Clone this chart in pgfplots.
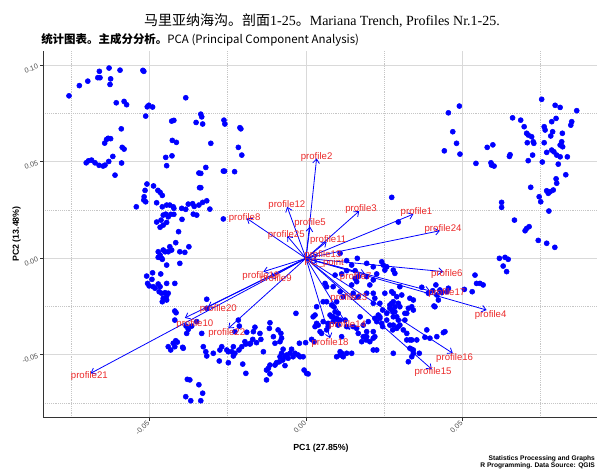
\documentclass[border=0pt]{standalone}
\usepackage{pgfplots}
\pgfplotsset{compat=1.18}
\usetikzlibrary{arrows.meta}
\usepackage{fontspec}
\setmainfont{Liberation Sans}
\newfontfamily\serifft{Liberation Serif}
\newfontfamily\cjk{Noto Sans CJK SC}

\definecolor{ptblue}{RGB}{0,0,255}
\definecolor{labred}{RGB}{235,40,40}
\definecolor{axisdark}{RGB}{51,51,51}
\definecolor{tickgray}{RGB}{77,77,77}

\begin{document}
\begin{tikzpicture}
\begin{axis}[
    at={(32.5pt,39.2pt)}, anchor=south west,
    scale only axis, width=415.3pt, height=275pt,
    xmin=-0.0839, xmax=0.0930, ymin=-0.0826, ymax=0.1074,
    axis lines*=left,
    axis line style={axisdark, line width=1.1pt},
    scaled ticks=false,
    xtick={-0.05,0,0.05}, xticklabels={-0.05,0.00,0.05},
    ytick={-0.05,0,0.05,0.1}, yticklabels={-0.05,0.00,0.05,0.10},
    minor xtick={-0.075,-0.025,0.025,0.075},
    minor ytick={-0.075,-0.025,0.025,0.075},
    grid=both,
    major grid style={gray!30, line width=0.5pt},
    minor grid style={gray!45, densely dotted, line width=0.5pt},
    tick align=outside, major tick length=2.5pt, minor tick length=0pt,
    tick style={axisdark, line width=0.5pt},
    xticklabel style={rotate=45, anchor=east, inner sep=1pt, font=\fontsize{5.4}{6}\selectfont, text=tickgray},
    yticklabel style={rotate=20, anchor=east, inner sep=1.5pt, font=\fontsize{5.4}{6}\selectfont, text=tickgray},
]
% individual observations
\addplot[only marks, mark=*, mark size=1.9pt, color=ptblue, mark options={draw=ptblue, fill=ptblue}] coordinates {
(-0.0757,0.0842) (-0.0724,0.0895) (-0.0697,0.0918) (-0.0660,0.0969) (-0.0665,0.0936) (-0.0658,0.0936) (-0.0629,0.0986) (-0.0624,0.0930) (-0.0626,0.0901) (-0.0594,0.0975) (-0.0521,0.0974) (-0.0518,0.0969)
(-0.0606,0.0806) (-0.0581,0.0813) (-0.0573,0.0796) (-0.0507,0.0785) (-0.0502,0.0793) (-0.0490,0.0784) (-0.0512,0.0737) (-0.0384,0.0832) (-0.0429,0.0711) (-0.0422,0.0715) (-0.0351,0.0704) (-0.0336,0.0747) (-0.0333,0.0733) (-0.0330,0.0696) (-0.0262,0.0716) (-0.0259,0.0696) (-0.0211,0.0677) (-0.0208,0.0671)
(-0.0590,0.0671) (-0.0637,0.0616) (-0.0632,0.0622) (-0.0624,0.0620) (-0.0643,0.0597) (-0.0587,0.0575) (-0.0581,0.0566) (-0.0617,0.0528) (-0.0589,0.0494) (-0.0610,0.0431)
(-0.0702,0.0495) (-0.0695,0.0505) (-0.0685,0.0509) (-0.0674,0.0495) (-0.0661,0.0482) (-0.0648,0.0478) (-0.0642,0.0483) (-0.0630,0.0502)
(-0.0427,0.0611) (-0.0414,0.0601) (-0.0304,0.0596) (-0.0216,0.0575) (-0.0205,0.0535) (-0.0448,0.0523) (-0.0428,0.0531) (-0.0445,0.0480) (-0.0342,0.0442) (-0.0320,0.0471) (-0.0336,0.0440) (-0.0264,0.0452) (-0.0260,0.0452) (-0.0228,0.0449)
(-0.0508,0.0385) (-0.0487,0.0375) (-0.0473,0.0352) (-0.0466,0.0342) (-0.0459,0.0326) (-0.0517,0.0319) (-0.0518,0.0302) (-0.0512,0.0293) (-0.0477,0.0288) (-0.0459,0.0267) (-0.0542,0.0267) (-0.0445,0.0276) (-0.0435,0.0276) (-0.0424,0.0267) (-0.0422,0.0259) (-0.0397,0.0259) (-0.0376,0.0281) (-0.0362,0.0283) (-0.0357,0.0269) (-0.0342,0.0276) (-0.0384,0.0254)
(-0.0477,0.0188) (-0.0463,0.0198) (-0.0456,0.0224) (-0.0448,0.0229) (-0.0440,0.0215) (-0.0432,0.0228) (-0.0422,0.0228) (-0.0466,0.0161) (-0.0456,0.0172) (-0.0445,0.0186) (-0.0396,0.0202) (-0.0407,0.0138) (-0.0416,0.0081) (-0.0374,0.0060) (-0.0360,0.0229) (-0.0349,0.0224)
(-0.0330,0.0290) (-0.0317,0.0298) (-0.0307,0.0255) (-0.0264,0.0204) (-0.0514,0.0352) (-0.0340,0.0366) (-0.0336,0.0366)
(-0.0435,0.0060) (-0.0456,0.0043) (-0.0450,0.0034) (-0.0466,0.0017) (-0.0461,0.0000) (-0.0429,0.0043) (-0.0387,0.0031) (-0.0403,0.0034) (-0.0472,0.0034) (-0.0440,0.0034)
(-0.0472,0.0005) (-0.0459,-0.0005) (-0.0445,-0.0035) (-0.0403,-0.0026)
(-0.0509,-0.0092) (-0.0490,-0.0075) (-0.0464,-0.0081) (-0.0492,-0.0109) (-0.0506,-0.0130) (-0.0501,-0.0143) (-0.0488,-0.0147) (-0.0472,-0.0133) (-0.0445,-0.0130) (-0.0419,-0.0130) (-0.0482,-0.0155) (-0.0469,-0.0173) (-0.0461,-0.0181) (-0.0450,-0.0178) (-0.0440,-0.0181) (-0.0456,-0.0207) (-0.0445,-0.0216) (-0.0459,-0.0225) (-0.0445,-0.0195) (-0.0466,-0.0147)
(-0.0419,-0.0273) (-0.0415,-0.0282) (-0.0419,-0.0320) (-0.0376,-0.0368) (-0.0381,-0.0389) (-0.0365,-0.0351) (-0.0349,-0.0328) (-0.0383,-0.0351) (-0.0333,-0.0389) (-0.0317,-0.0212) (-0.0317,-0.0259)
(-0.0416,-0.0427) (-0.0411,-0.0434) (-0.0424,-0.0440) (-0.0440,-0.0458) (-0.0432,-0.0475) (-0.0394,-0.0461) (-0.0392,-0.0466) (-0.0419,-0.0458)
(-0.0379,-0.0627) (-0.0371,-0.0630) (-0.0342,-0.0655) (-0.0384,-0.0717) (-0.0368,-0.0738) (-0.0330,-0.0699) (-0.0336,-0.0738)
(-0.0216,-0.0320) (-0.0213,-0.0351) (-0.0227,-0.0380) (-0.0163,-0.0357) (-0.0168,-0.0380) (-0.0189,-0.0383) (-0.0195,-0.0432) (-0.0177,-0.0440) (-0.0170,-0.0420) (-0.0147,-0.0389) (-0.0144,-0.0420) (-0.0115,-0.0334) (-0.0117,-0.0363) (-0.0104,-0.0406) (-0.0089,-0.0371) (-0.0080,-0.0389) (-0.0078,-0.0414) (-0.0083,-0.0432) (-0.0099,-0.0440) (-0.0032,-0.0285)
(-0.0328,-0.0458) (-0.0320,-0.0484) (-0.0317,-0.0506) (-0.0296,-0.0492) (-0.0275,-0.0475) (-0.0269,-0.0458) (-0.0253,-0.0475) (-0.0248,-0.0484) (-0.0232,-0.0458) (-0.0237,-0.0484) (-0.0227,-0.0492) (-0.0214,-0.0475) (-0.0205,-0.0458) (-0.0192,-0.0444) (-0.0179,-0.0444)
(-0.0277,-0.0532) (-0.0248,-0.0541) (-0.0202,-0.0548) (-0.0192,-0.0596) (-0.0232,-0.0506)
(-0.0158,-0.0437) (-0.0136,-0.0484) (-0.0120,-0.0570) (-0.0115,-0.0599) (-0.0126,-0.0630) (-0.0099,-0.0553) (-0.0085,-0.0536) (-0.0067,-0.0556) (-0.0057,-0.0518) (-0.0062,-0.0501) (-0.0078,-0.0492) (-0.0073,-0.0471) (-0.0046,-0.0471) (-0.0035,-0.0492) (-0.0025,-0.0501) (-0.0009,-0.0510) (-0.0006,-0.0579) (0.0002,-0.0596) (-0.0021,-0.0440) (-0.0001,-0.0437)
(-0.0067,-0.0510) (-0.0074,-0.0527) (-0.0094,-0.0541) (-0.0115,-0.0553) (-0.0126,-0.0579) (-0.0083,-0.0510) (-0.0051,-0.0492) (-0.0041,-0.0510) (-0.0019,-0.0510) (0.0007,-0.0599)
(0.0023,-0.0303) (0.0034,-0.0251) (0.0055,-0.0225) (0.0029,-0.0354) (0.0039,-0.0346) (0.0045,-0.0380) (0.0018,-0.0420) (0.0026,-0.0432) (0.0050,-0.0389) (0.0066,-0.0371) (0.0071,-0.0354) (0.0077,-0.0294) (0.0089,-0.0251) (0.0093,-0.0277) (0.0087,-0.0303) (0.0103,-0.0320) (0.0114,-0.0406) (0.0114,-0.0492) (0.0119,-0.0510) (0.0109,-0.0484) (0.0146,-0.0492)
(0.0173,-0.0303) (0.0183,-0.0346) (0.0162,-0.0363) (0.0189,-0.0406) (0.0194,-0.0380) (0.0178,-0.0432) (0.0204,-0.0432) (0.0215,-0.0414) (0.0215,-0.0475) (0.0226,-0.0475) (0.0226,-0.0328) (0.0236,-0.0311) (0.0220,-0.0311) (0.0231,-0.0294) (0.0242,-0.0337) (0.0245,-0.0354) (0.0258,-0.0320) (0.0268,-0.0346) (0.0279,-0.0303) (0.0284,-0.0277) (0.0279,-0.0346) (0.0295,-0.0320) (0.0300,-0.0346) (0.0290,-0.0363) (0.0277,-0.0371) (0.0300,-0.0251) (0.0274,-0.0268) (0.0268,-0.0242)
(0.0322,-0.0285) (0.0316,-0.0320) (0.0322,-0.0389) (0.0332,-0.0423) (0.0354,-0.0423) (0.0338,-0.0471) (0.0279,-0.0492) (0.0327,-0.0536) (0.0343,-0.0492) (0.0386,-0.0371) (0.0396,-0.0414) (0.0412,-0.0251) (0.0418,-0.0406)
(0.0109,0.0026) (0.0130,-0.0012) (0.0164,0.0000) (0.0130,-0.0064) (0.0157,-0.0064) (0.0167,-0.0095) (0.0194,-0.0095)
(0.0146,-0.0035) (0.0194,-0.0026) (0.0215,-0.0044) (0.0242,-0.0018) (0.0247,-0.0035) (0.0258,-0.0044) (0.0252,-0.0061) (0.0279,-0.0061) (0.0284,-0.0078) (0.0093,-0.0087) (0.0114,-0.0081) (0.0157,-0.0104) (0.0162,-0.0121) (0.0146,-0.0138) (0.0215,-0.0112) (0.0204,-0.0138) (0.0226,-0.0081)
(0.0061,-0.0130) (0.0066,-0.0147) (0.0087,-0.0147) (0.0109,-0.0173) (0.0119,-0.0199) (0.0151,-0.0181) (0.0167,-0.0199) (0.0194,-0.0181) (0.0215,-0.0181) (0.0220,-0.0207) (0.0236,-0.0233) (0.0215,-0.0233) (0.0252,-0.0181) (0.0274,-0.0173) (0.0290,-0.0199) (0.0279,-0.0225) (0.0295,-0.0233) (0.0284,-0.0251) (0.0268,-0.0259) (0.0245,-0.0268) (0.0258,-0.0285) (0.0236,-0.0303) (0.0290,-0.0303)
(0.0066,-0.0225) (0.0082,-0.0242) (0.0098,-0.0225) (0.0103,-0.0285) (0.0082,-0.0303) (0.0109,-0.0320) (0.0029,-0.0294) (0.0034,-0.0337) (0.0055,-0.0328) (0.0071,-0.0337) (0.0087,-0.0328) (0.0098,-0.0311) (0.0103,-0.0346) (0.0125,-0.0320) (0.0130,-0.0354) (0.0151,-0.0354) (0.0199,-0.0328) (0.0167,-0.0389) (0.0183,-0.0406) (0.0194,-0.0406) (0.0192,-0.0423) (0.0220,-0.0406) (0.0215,-0.0380)
(0.0098,-0.0510) (0.0109,-0.0501) (0.0130,-0.0492)
(0.0618,0.0000) (0.0636,0.0005) (0.0646,-0.0005) (0.0630,-0.0040) (0.0641,-0.0069) (0.0540,-0.0087) (0.0545,-0.0130) (0.0556,-0.0130) (0.0566,-0.0138) (0.0531,-0.0173) (0.0506,-0.0161)
(0.0370,-0.0150) (0.0405,-0.0168) (0.0415,-0.0138) (0.0428,-0.0164) (0.0434,-0.0178) (0.0455,-0.0155) (0.0450,-0.0173) (0.0418,-0.0190) (0.0423,-0.0216) (0.0409,-0.0247) (0.0391,-0.0181)
(0.0300,-0.0147) (0.0279,-0.0181) (0.0306,-0.0190) (0.0274,-0.0233) (0.0332,-0.0207) (0.0343,-0.0216) (0.0338,-0.0251) (0.0327,-0.0259) (0.0343,-0.0268) (0.0316,-0.0285) (0.0279,-0.0277) (0.0295,-0.0354) (0.0311,-0.0371) (0.0322,-0.0423) (0.0338,-0.0423) (0.0380,-0.0409) (0.0439,-0.0385) (0.0444,-0.0380) (0.0332,-0.0466) (0.0343,-0.0475) (0.0338,-0.0510) (0.0362,-0.0492)
(0.0455,0.0754) (0.0490,0.0789) (0.0469,0.0656) (0.0481,0.0596) (0.0442,0.0557) (0.0492,0.0540) (0.0579,0.0575) (0.0597,0.0588) (0.0543,0.0492) (0.0591,0.0495) (0.0593,0.0483) (0.0601,0.0478) (0.0650,0.0528) (0.0652,0.0537)
(0.0660,0.0728) (0.0686,0.0716) (0.0697,0.0682) (0.0705,0.0648) (0.0710,0.0639) (0.0721,0.0630) (0.0707,0.0599) (0.0726,0.0604) (0.0728,0.0596) (0.0724,0.0535) (0.0710,0.0506)
(0.0753,0.0824) (0.0796,0.0793) (0.0812,0.0782) (0.0865,0.0765) (0.0799,0.0725) (0.0785,0.0708) (0.0761,0.0682) (0.0764,0.0665) (0.0788,0.0656) (0.0782,0.0634) (0.0819,0.0648) (0.0849,0.0708) (0.0846,0.0690) (0.0817,0.0604) (0.0812,0.0587) (0.0820,0.0578) (0.0761,0.0599) (0.0769,0.0549) (0.0785,0.0561) (0.0792,0.0552) (0.0801,0.0535) (0.0812,0.0526) (0.0835,0.0526) (0.0806,0.0488) (0.0755,0.0499)
(0.0830,0.0433) (0.0799,0.0412) (0.0801,0.0389) (0.0790,0.0354) (0.0780,0.0345) (0.0774,0.0337) (0.0769,0.0350) (0.0745,0.0319) (0.0750,0.0293) (0.0718,0.0368) (0.0776,0.0245)
(0.0625,0.0290) (0.0625,0.0264) (0.0666,0.0198) (0.0700,0.0143) (0.0705,0.0155) (0.0713,0.0164) (0.0742,0.0093) (0.0769,0.0078) (0.0795,0.0057)
(0.0274,0.0316) (0.0295,0.0188)
};
% loading arrows
\addplot[color=ptblue, line width=0.6pt, -{Straight Barb[length=3.2pt,width=5pt]},
    quiver={u=\thisrow{u}, v=\thisrow{v}}] table[x=x, y=y] {
x y u v
0 0 0.0343 0.0229
0 0 0.0034 0.0518
0 0 0.0170 0.0245
0 0 0.0577 -0.0268
0 0 0.0013 0.0164
0 0 0.0439 -0.0069
0 0 0.0189 -0.0081
0 0 -0.0189 0.0207
0 0 -0.0115 -0.0102
0 0 -0.0387 -0.0309
0 0 0.0066 0.0086
0 0 -0.0060 0.0267
0 0 0.0038 0.0017
0 0 0.0141 -0.0371
0 0 0.0402 -0.0575
0 0 0.0469 -0.0492
0 0 0.0396 -0.0169
0 0 0.0077 -0.0414
0 0 -0.0136 -0.0069
0 0 -0.0313 -0.0252
0 0 -0.0688 -0.0596
0 0 -0.0248 -0.0363
0 0 0.0162 -0.0216
0 0 0.0428 0.0143
0 0 -0.0060 0.0116
0 0 0.0038 -0.0019
};
% loading labels
\addplot[only marks, mark=*, mark size=0pt, mark options={draw=none, fill=none},
    nodes near coords, point meta=explicit symbolic,
    nodes near coords style={anchor=center, inner sep=0pt, text=labred, font=\fontsize{7.2}{8}\selectfont}]
    table[x=lx, y=ly, meta=name] {
lx ly name
0.0353 0.0241 profile1
0.0034 0.0526 profile2
0.0176 0.0255 profile3
0.0590 -0.0294 profile4
0.0013 0.0181 profile5
0.0450 -0.0081 profile6
0.0159 -0.0095 profile7
-0.0196 0.0209 profile8
-0.0096 -0.0109 profile9
-0.0355 -0.0340 profile10
0.0071 0.0095 profile11
-0.0061 0.0275 profile12
0.0054 0.0015 profile13
0.0133 -0.0346 profile14
0.0406 -0.0587 profile15
0.0475 -0.0515 profile16
0.0450 -0.0181 profile17
0.0077 -0.0437 profile18
-0.0144 -0.0090 profile19
-0.0280 -0.0263 profile20
-0.0692 -0.0610 profile21
-0.0253 -0.0385 profile22
0.0137 -0.0207 profile23
0.0438 0.0152 profile24
-0.0063 0.0119 profile25
0.0058 -0.0022 PC\_point
};
\end{axis}
% titles and labels
\node[anchor=center, inner sep=0pt, font=\fontsize{10.5}{12}\selectfont] at (241.5pt,336.75pt)
    {\cjk 马里亚纳海沟。剖面\serifft 1-25\cjk 。\serifft Mariana Trench, Profiles Nr.1-25.};
\node[anchor=west, inner sep=0pt, font=\fontsize{8.6}{10}\selectfont] at (30.75pt,322.5pt)
    {\cjk{\bfseries 统计图表。主成分分析。}PCA (Principal Component Analysis)};
\node[anchor=center, inner sep=0pt, font=\bfseries\fontsize{6.6}{8}\selectfont] at (240.75pt,16.5pt) {PC1 (27.85\%)};
\node[anchor=center, rotate=90, inner sep=0pt, font=\bfseries\fontsize{6.6}{8}\selectfont] at (12.5pt,177pt) {PC2 (13.48\%)};
\node[anchor=north east, align=right, inner sep=0pt, font=\bfseries\fontsize{5}{5.4}\selectfont] at (446.4pt,10.8pt)
    {Statistics Processing and Graphs\\R Programming. Data Source: QGIS};
\pgfresetboundingbox
\useasboundingbox (0pt,0pt) rectangle (447.75pt,352.5pt);
\end{tikzpicture}
\end{document}
